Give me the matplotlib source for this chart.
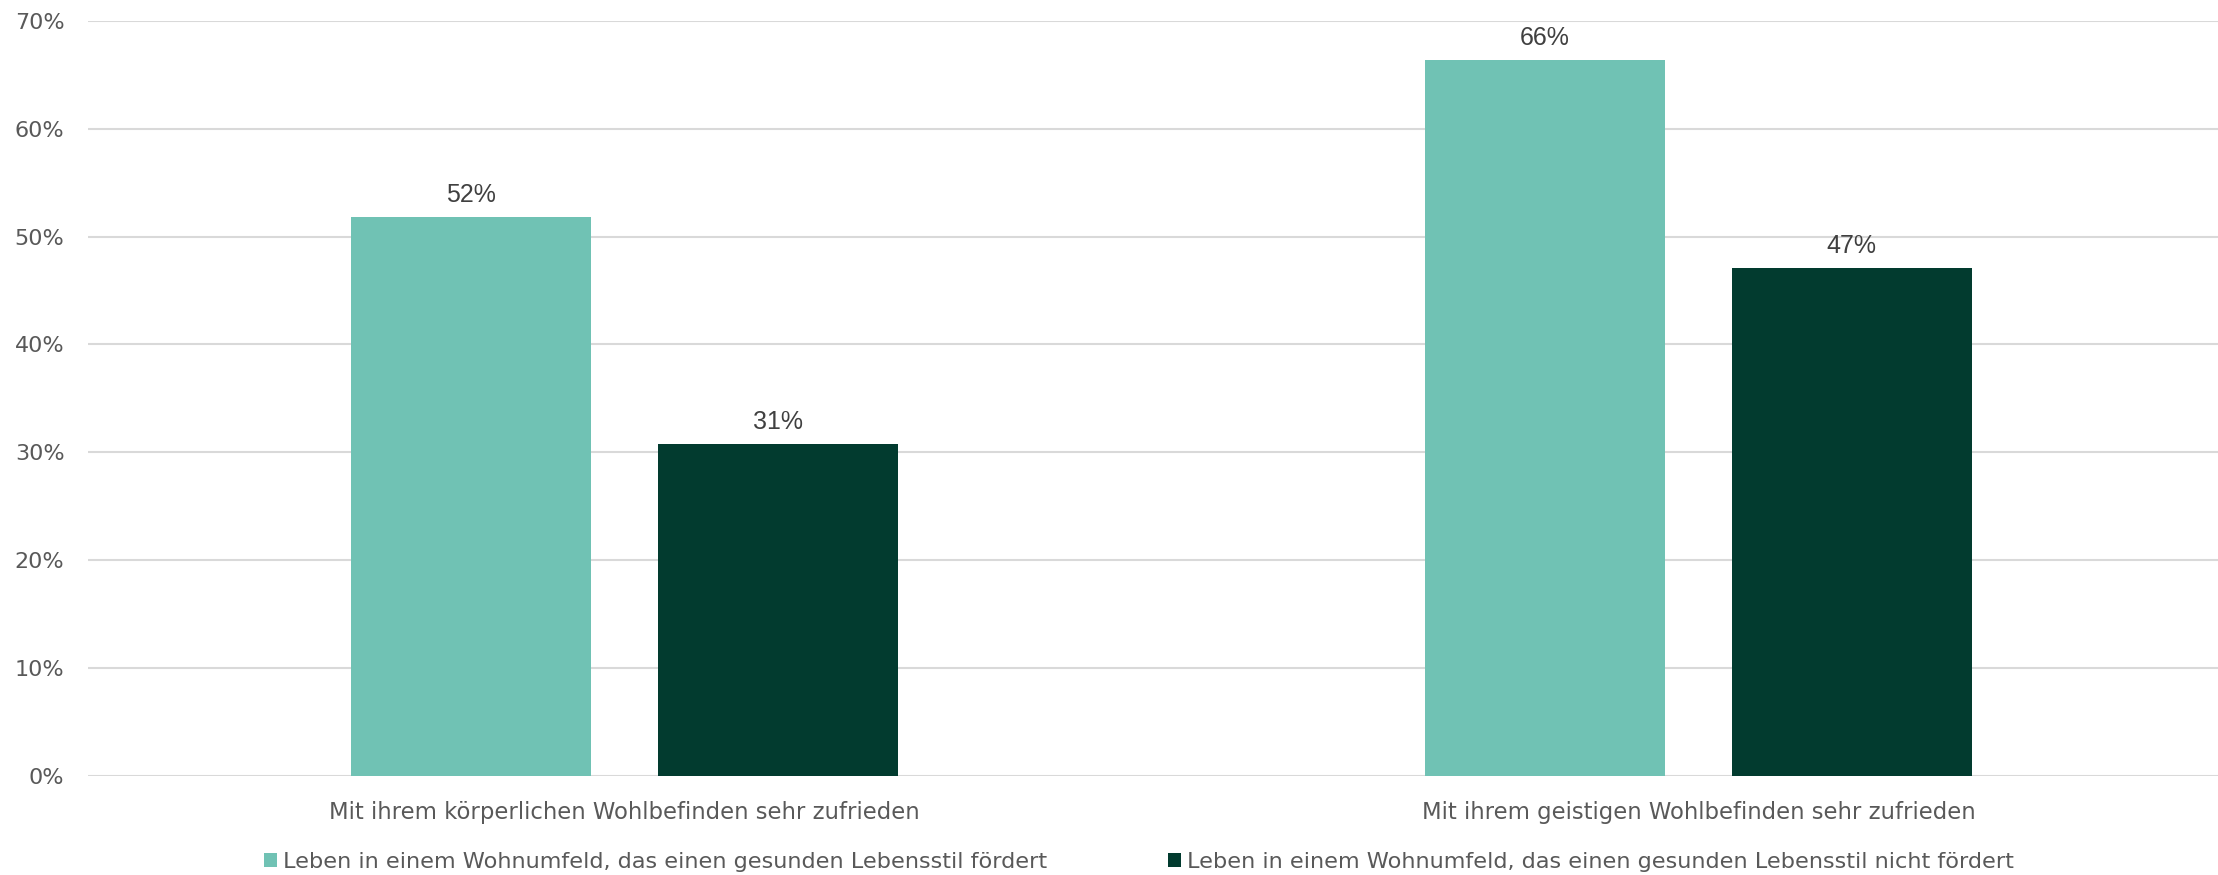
import numpy as np
import matplotlib.pyplot as plt
from matplotlib.patches import Patch

# Daten
kategorien = ['Mit ihrem körperlichen Wohlbefinden sehr zufrieden',
              'Mit ihrem geistigen Wohlbefinden sehr zufrieden']
serien = ['Leben in einem Wohnumfeld, das einen gesunden Lebensstil fördert',
          'Leben in einem Wohnumfeld, das einen gesunden Lebensstil nicht fördert']
foerdert = [0.518, 0.664]
nicht_foerdert = [0.308, 0.471]
y_ticks = [0, 0.1, 0.2, 0.3, 0.4, 0.5, 0.6, 0.7]

farben = ['#70C2B4', '#023B2F']

fig = plt.figure(figsize=(22.18, 8.75), dpi=100)
ax = fig.add_axes([0.0397, 0.1131, 0.968, 0.8632])

x = np.arange(len(kategorien))
breite = 0.2236
versatz = 0.143

for werte, off, farbe in [(foerdert, -versatz, farben[0]), (nicht_foerdert, versatz, farben[1])]:
    bars = ax.bar(x + off, werte, width=breite, color=farbe, zorder=3)
    for b, v in zip(bars, werte):
        ax.annotate(f'{v*100:.0f}%', (b.get_x() + b.get_width()/2, v),
                    xytext=(0, 7), textcoords='offset points', ha='center', va='bottom',
                    fontsize=18, color='#404040', family='Liberation Sans')

ax.set_xlim(-0.5, 1.5)
ax.set_ylim(0, 0.70)
ax.set_yticks(y_ticks)
ax.set_yticklabels([f'{t*100:.0f}%' for t in y_ticks], fontsize=16, color='#595959')
ax.set_xticks(x)
ax.set_xticklabels(kategorien, fontsize=16.4, color='#595959')
ax.tick_params(axis='y', length=0, pad=17)
ax.tick_params(axis='x', length=0, pad=18)
ax.grid(axis='y', color='#D9D9D9', linewidth=1.5, zorder=0)
ax.set_axisbelow(True)
for s in ax.spines.values():
    s.set_visible(False)

handles = [Patch(facecolor=farben[0]), Patch(facecolor=farben[1])]
fig.legend(handles, serien, loc='center', bbox_to_anchor=(0.5135, 0.015), ncol=2,
           frameon=False, fontsize=16.1, labelcolor='#595959',
           handlelength=0.6, handleheight=0.6, handletextpad=0.25, columnspacing=5.4)

fig.savefig('out.png', dpi=100)
